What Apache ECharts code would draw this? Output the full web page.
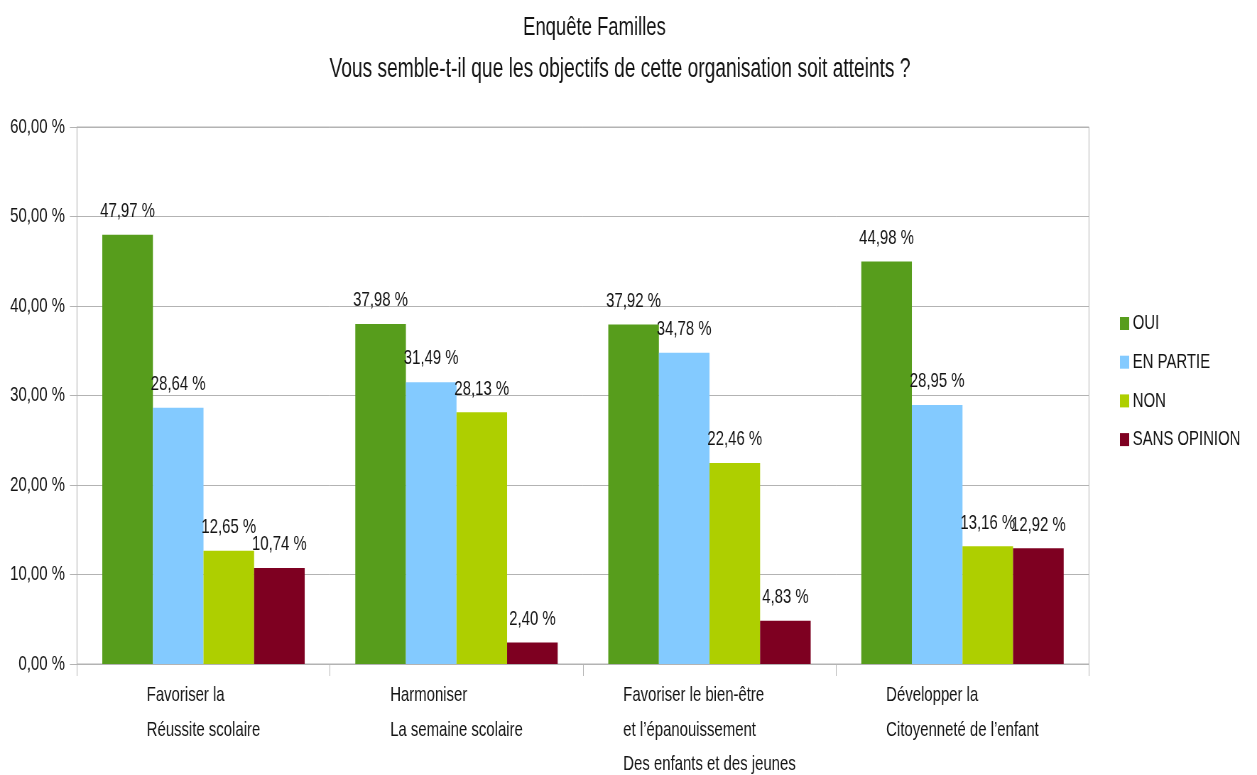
<!DOCTYPE html>
<html>
<head>
<meta charset="utf-8">
<title>Enquête Familles</title>
<script src="https://cdn.jsdelivr.net/npm/echarts@6/dist/echarts.min.js"></script>
<style>
  html, body { margin: 0; padding: 0; background: #ffffff; overflow: hidden; }
  /* The chart is laid out on a wider canvas and condensed horizontally,
     which gives the tall, narrow lettering of the original chart. */
  #chart {
    width: 1770px; height: 775px;
    transform: scaleX(0.710169);
    transform-origin: 0 0;
  }
</style>
</head>
<body>
<div id="chart"></div>
<script>
// Survey answers per objective (percent of families)
const categories = [
  'Favoriser la\nRéussite scolaire',
  'Harmoniser\nLa semaine scolaire',
  'Favoriser le bien-être\net l\u2019épanouissement\nDes enfants et des jeunes',
  'Développer la\nCitoyenneté de l\u2019enfant'
];
const seriesNames = ['OUI', 'EN PARTIE', 'NON', 'SANS OPINION'];
const oui = [47.97, 37.98, 37.92, 44.98];
const enPartie = [28.64, 31.49, 34.78, 28.95];
const non = [12.65, 28.13, 22.46, 13.16];
const sansOpinion = [10.74, 2.40, 4.83, 12.92];
const yTicks = { min: 0, max: 60, step: 10 };
const colors = ['#579d1c', '#83caff', '#aecf00', '#7e0021'];

const FONT = '"Liberation Sans", Arial, sans-serif';
const TEXT = '#141414';
const GRID = '#b3b3b3';
const LABEL_SIZE = 21;
const TITLE_SIZE = 26;

function pct(v) {
  return v.toFixed(2).replace('.', ',') + ' %';
}

const values = [oui, enPartie, non, sansOpinion];

const chart = echarts.init(document.getElementById('chart'), null, { renderer: 'canvas' });

chart.setOption({
  backgroundColor: '#ffffff',
  animation: false,
  textStyle: { fontFamily: FONT },
  title: [
    {
      text: 'Enquête Familles',
      left: 832, top: 10, textAlign: 'center',
      textStyle: { fontFamily: FONT, fontSize: TITLE_SIZE, fontWeight: 'normal', color: TEXT }
    },
    {
      text: 'Vous semble-t-il que les objectifs de cette organisation soit atteints ?',
      left: 868, top: 51, textAlign: 'center',
      textStyle: { fontFamily: FONT, fontSize: TITLE_SIZE + 1, fontWeight: 'normal', color: TEXT }
    }
  ],
  legend: {
    orient: 'vertical',
    left: 1572,
    top: 308,
    itemWidth: 13,
    itemHeight: 13,
    itemGap: 17.7,
    icon: 'rect',
    textStyle: { fontFamily: FONT, fontSize: LABEL_SIZE, lineHeight: 19, color: TEXT },
    data: seriesNames
  },
  grid: {
    left: 108.4, right: 236.6, top: 127, bottom: 111,
    show: true, borderColor: GRID, borderWidth: 1,
    containLabel: false
  },
  xAxis: {
    type: 'category',
    data: categories,
    axisLine: { show: true, lineStyle: { color: GRID, width: 1 } },
    axisTick: { show: true, length: 12, interval: 0, lineStyle: { color: GRID } },
    axisLabel: {
      interval: 0,
      margin: 14,
      formatter: function (v) {
        return v.split('\n').map(function (s) { return '{l|' + s + '}'; }).join('\n');
      },
      rich: {
        l: { align: 'left', fontFamily: FONT, fontSize: LABEL_SIZE, lineHeight: 34.5, color: TEXT }
      }
    }
  },
  yAxis: {
    type: 'value',
    min: yTicks.min, max: yTicks.max, interval: yTicks.step,
    axisLine: { show: true, lineStyle: { color: GRID } },
    axisTick: { show: true, length: 10, lineStyle: { color: GRID } },
    splitLine: { show: true, lineStyle: { color: GRID, width: 1 } },
    axisLabel: {
      margin: 17,
      fontFamily: FONT, fontSize: LABEL_SIZE, color: TEXT,
      formatter: function (v) { return pct(v); }
    }
  },
  series: seriesNames.map(function (name, i) {
    return {
      name: name,
      type: 'bar',
      data: values[i],
      barGap: '0%',
      barCategoryGap: '20%',
      itemStyle: { color: colors[i] },
      label: {
        show: true,
        position: 'top',
        distance: 13,
        fontFamily: FONT, fontSize: LABEL_SIZE, color: TEXT,
        formatter: function (p) { return pct(p.value); }
      }
    };
  })
});
</script>
</body>
</html>
